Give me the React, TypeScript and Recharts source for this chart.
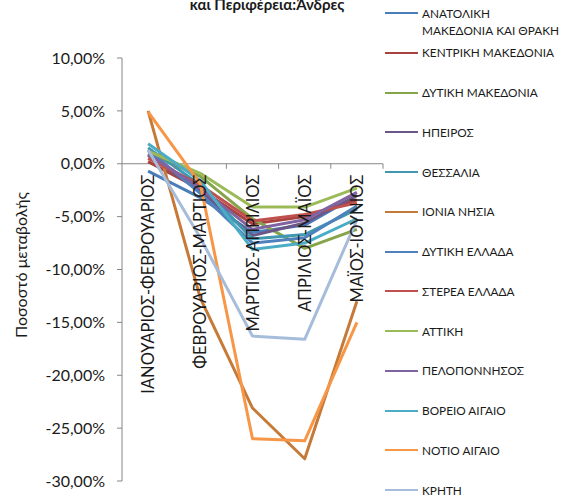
import React from 'react';
import { LineChart, Line, XAxis, YAxis, ReferenceLine } from 'recharts';

const categories = [
  'ΙΑΝΟΥΑΡΙΟΣ-ΦΕΒΡΟΥΑΡΙΟΣ',
  'ΦΕΒΡΟΥΑΡΙΟΣ-ΜΑΡΤΙΟΣ',
  'ΜΑΡΤΙΟΣ-ΑΠΡΙΛΙΟΣ',
  'ΑΠΡΙΛΙΟΣ-ΜΑΪΟΣ',
  'ΜΑΪΟΣ-ΙΟΥΝΙΟΣ',
];

const seriesNames = [
  'ΑΝΑΤΟΛΙΚΗ ΜΑΚΕΔΟΝΙΑ ΚΑΙ ΘΡΑΚΗ',
  'ΚΕΝΤΡΙΚΗ ΜΑΚΕΔΟΝΙΑ',
  'ΔΥΤΙΚΗ ΜΑΚΕΔΟΝΙΑ',
  'ΗΠΕΙΡΟΣ',
  'ΘΕΣΣΑΛΙΑ',
  'ΙΟΝΙΑ ΝΗΣΙΑ',
  'ΔΥΤΙΚΗ ΕΛΛΑΔΑ',
  'ΣΤΕΡΕΑ ΕΛΛΑΔΑ',
  'ΑΤΤΙΚΗ',
  'ΠΕΛΟΠΟΝΝΗΣΟΣ',
  'ΒΟΡΕΙΟ ΑΙΓΑΙΟ',
  'ΝΟΤΙΟ ΑΙΓΑΙΟ',
  'ΚΡΗΤΗ',
];

const seriesColors = [
  '#4A7EBB', '#A8423F', '#86A44A', '#6B5687', '#3F97B0', '#C67A38',
  '#4F81BD', '#C0504D', '#9BBB59', '#8064A2', '#4BACC6', '#F79646', '#A6BCDB',
];

const anatolikiMakedonia = [-0.7, -3.2, -6.5, -5.8, -3.0];
const kentrikiMakedonia = [0.2, -2.4, -5.7, -5.0, -3.4];
const dytikiMakedonia = [1.0, -1.2, -5.2, -8.0, -6.2];
const ipeiros = [0.8, -2.6, -6.8, -5.6, -3.0];
const thessalia = [1.5, -2.0, -7.1, -6.7, -4.3];
const ioniaNisia = [5.0, -12.7, -23.1, -27.9, -13.0];
const dytikiEllada = [1.3, -2.8, -7.5, -7.0, -4.0];
const stereaEllada = [0.5, -2.0, -5.4, -4.8, -3.7];
const attiki = [1.2, -0.9, -4.1, -4.1, -2.3];
const peloponnisos = [0.9, -2.3, -6.2, -5.3, -2.7];
const voreioAigaio = [1.9, -1.6, -8.1, -7.5, -5.2];
const notioAigaio = [4.9, -1.9, -26.0, -26.2, -15.0];
const kriti = [1.3, -7.0, -16.3, -16.6, -5.3];

const seriesValues = [
  anatolikiMakedonia, kentrikiMakedonia, dytikiMakedonia, ipeiros, thessalia, ioniaNisia,
  dytikiEllada, stereaEllada, attiki, peloponnisos, voreioAigaio, notioAigaio, kriti,
];

const yTicks = [-30, -25, -20, -15, -10, -5, 0, 5, 10];
const yDomain = [-30, 10];

const data = categories.map((c, i) => {
  const row: any = { name: c };
  seriesValues.forEach((vals, s) => {
    row['s' + s] = vals[i];
  });
  return row;
});

const W = 562;
const H = 499;
const X_AXIS_H = 1;
const M = { top: 58, right: 179, bottom: 17, left: 0 };
const Y_AXIS_W = 122;
const PLOT_W = W - M.left - M.right - Y_AXIS_W;
const PLOT_H = H - M.top - M.bottom - X_AXIS_H;
const ZERO_Y = M.top + (PLOT_H * (yDomain[1] - 0)) / (yDomain[1] - yDomain[0]);
const HALF_BAND = PLOT_W / categories.length / 2;
const FONT = 'Lato, "Open Sans", sans-serif';
const AXIS_COLOR = '#868686';

const fmt = (v: number) => v.toFixed(2).replace('.', ',') + '%';

const CatTick = (props: any) => {
  const { x, payload } = props;
  return (
    <g>
      <line x1={x + HALF_BAND} x2={x + HALF_BAND} y1={ZERO_Y} y2={ZERO_Y + 5} stroke={AXIS_COLOR} strokeWidth={1} />
      <text
        transform={`translate(${x},${ZERO_Y + 11}) rotate(-90)`}
        textAnchor="end"
        dominantBaseline="central"
        fontFamily={FONT}
        fontSize={16.5}
        fill="#1a1a1a"
      >
        {payload.value}
      </text>
    </g>
  );
};

const YLabel = () => (
  <text
    transform={`translate(20,265) rotate(-90)`}
    textAnchor="middle"
    dominantBaseline="central"
    fontFamily={FONT}
    fontSize={16}
    fill="#1a1a1a"
  >
    Ποσοστό μεταβολής
  </text>
);

const LEGEND_TOP = 13;
const LEGEND_STEP = 39.75;

const ChartLegend = () => (
  <div style={{ position: 'absolute', left: 0, top: 0, width: W, height: H, pointerEvents: 'none' }}>
    {seriesNames.map((name, i) => {
      const cy = LEGEND_TOP + i * LEGEND_STEP;
      const sp = name.indexOf(' ');
      const parts = name.length > 22 ? [name.slice(0, sp), name.slice(sp + 1)] : [name];
      return (
        <div key={i}>
          <div
            style={{
              position: 'absolute',
              left: 385,
              top: cy - 1,
              width: 33,
              height: 2,
              background: seriesColors[i],
            }}
          />
          <div
            style={{
              position: 'absolute',
              left: 422,
              top: cy - 8.5,
              fontFamily: FONT,
              fontSize: 11.8,
              lineHeight: '17px',
              color: '#1a1a1a',
              whiteSpace: 'nowrap',
            }}
          >
            {parts.map((t, k) => (
              <div key={k}>{t}</div>
            ))}
          </div>
        </div>
      );
    })}
  </div>
);

export default function App() {
  return (
    <div style={{ position: 'absolute', left: 0, top: 0, width: W, height: H, background: '#fff', overflow: 'hidden' }}>
      <div
        style={{
          position: 'absolute',
          left: 0,
          width: 534,
          top: -5,
          textAlign: 'center',
          fontFamily: FONT,
          fontWeight: 'bold',
          fontSize: 15,
          lineHeight: '18px',
          color: '#1a1a1a',
        }}
      >
        και Περιφέρεια:Άνδρες
      </div>
      <div style={{ position: 'absolute', left: 0, top: 0 }}>
        <LineChart width={W} height={H} data={data} margin={M}>
          <XAxis
            dataKey="name"
            height={X_AXIS_H}
            axisLine={false}
            tickLine={false}
            interval={0}
            padding={{ left: HALF_BAND, right: HALF_BAND }}
            tick={(p: any) => <CatTick {...p} />}
          />
          <YAxis
            width={Y_AXIS_W}
            domain={yDomain}
            ticks={yTicks}
            tickFormatter={fmt}
            allowDataOverflow
            tickSize={5}
            tickMargin={12}
            stroke={AXIS_COLOR}
            axisLine={{ stroke: AXIS_COLOR }}
            tickLine={{ stroke: AXIS_COLOR }}
            tick={{ fill: '#1a1a1a', fontFamily: FONT, fontSize: 16 }}
            label={<YLabel />}
          />
          <ReferenceLine y={0} stroke={AXIS_COLOR} strokeWidth={1} />
          {seriesNames.map((n, s) => (
            <Line
              key={n}
              type="linear"
              dataKey={'s' + s}
              name={n}
              stroke={seriesColors[s]}
              strokeWidth={3}
              strokeLinejoin="round"
              dot={false}
              activeDot={false}
              isAnimationActive={false}
            />
          ))}
        </LineChart>
      </div>
      <ChartLegend />
    </div>
  );
}
